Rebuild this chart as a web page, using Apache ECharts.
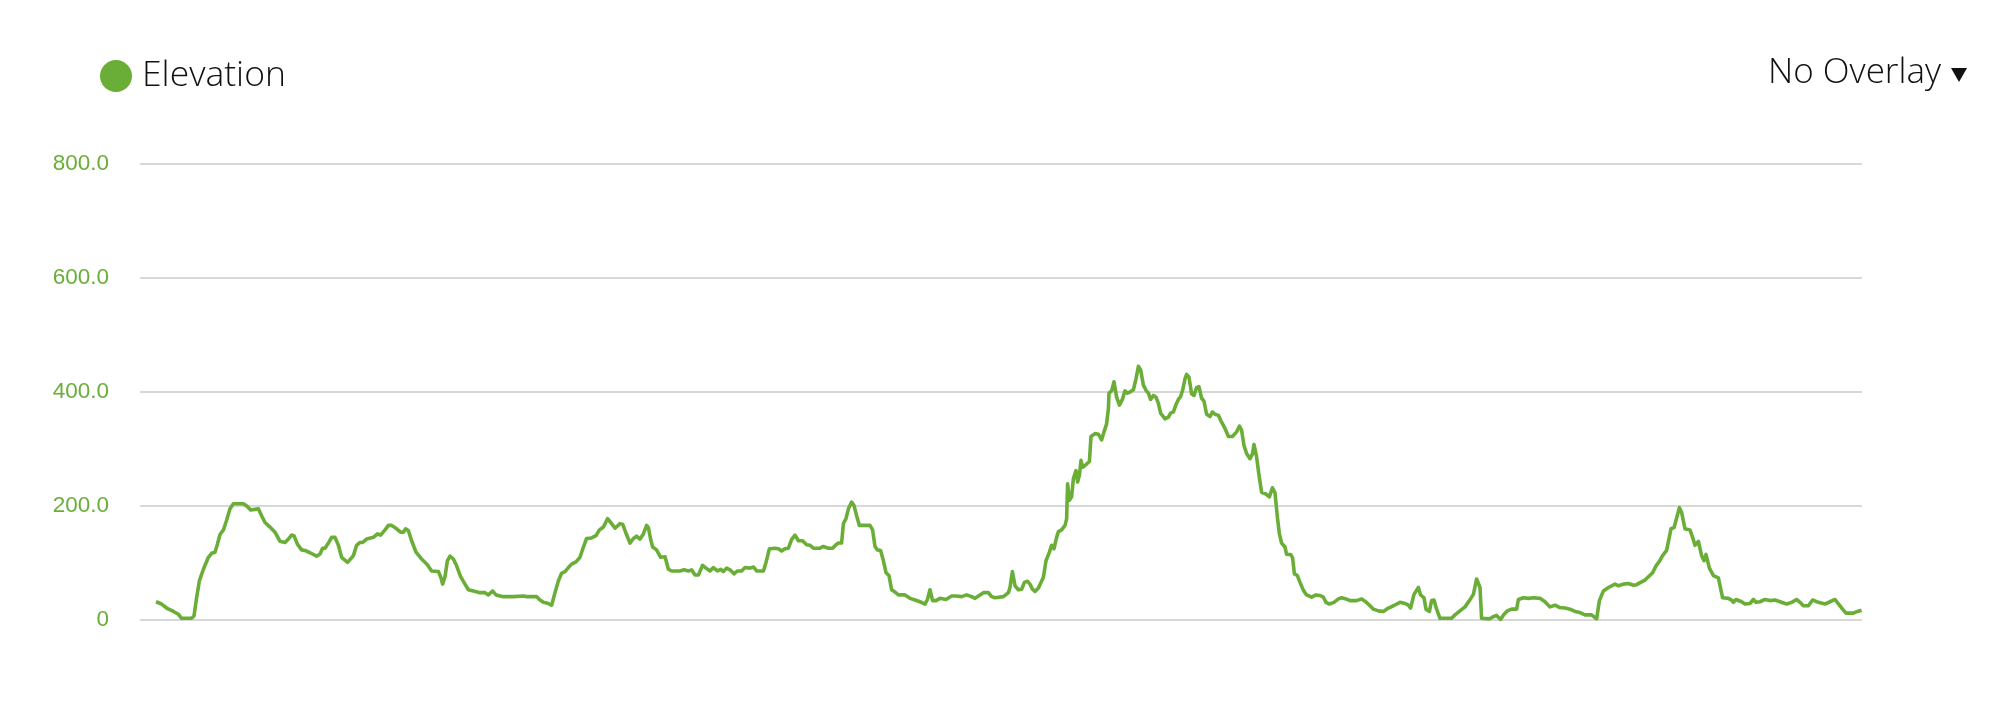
<!DOCTYPE html>
<html>
<head>
<meta charset="utf-8">
<script src="https://cdn.jsdelivr.net/npm/echarts@6/dist/echarts.min.js"></script>
<style>
html,body{margin:0;padding:0;background:#fff;}
#chart{width:1992px;height:706px;}
</style>
</head>
<body>
<div id="chart"></div>
<script>
// Distance (km) and elevation (m), in route order
var distanceKm1 = [0.80,1.08,1.33,1.67,1.92,2.08,2.58,2.70,2.83,2.97,3.17,3.42,3.58,3.75,3.87,4.00,4.17,4.33,4.50,4.67,5.17,5.37,5.53,5.92,6.08,6.25,6.50,6.75,7.00,7.25,7.42,7.58,7.70,7.87,8.08,8.25,8.50,8.83,9.00,9.13,9.25,9.42,9.58,9.75,9.92,10.08,10.38,10.67,10.83,11.00,11.13,11.33,11.67,11.87,12.03,12.25,12.42,12.58,12.83,13.03,13.17,13.28,13.42,13.58,13.80,14.08,14.37,14.58,14.92,15.05,15.13,15.25,15.37,15.50,15.67,15.83,16.03,16.25,16.42,16.67,17.00];
var elevationM1 = [32,28,21,15,10,3,3,7,39,69,89,110,117,119,133,150,158,175,195,204,204,199,193,195,183,171,163,154,138,136,142,149,148,133,123,122,118,112,116,126,126,135,145,145,131,110,101,113,131,136,136,142,145,151,149,158,166,166,160,154,154,160,157,139,119,107,97,86,85,74,63,76,104,112,107,95,76,63,53,51,48];

var distanceKm2 = [17.25,17.42,17.63,17.80,18.17,18.67,19.17,19.33,19.83,20.00,20.17,20.33,20.58,20.75,20.92,21.08,21.25,21.42,21.58,21.80,22.00,22.17,22.33,22.58,22.80,22.97,23.17,23.38,23.58,23.75,24.00,24.13,24.28,24.50,24.67,24.83,25.00,25.17,25.33,25.42,25.53,25.63,25.83,26.03,26.25,26.42,26.58,27.00,27.20,27.42,27.58,27.75,27.92,28.13,28.30,28.50,28.67,28.87,29.03,29.17,29.33,29.50,29.70,29.87,30.08,30.25,30.50,30.67,30.83,31.17,31.30,31.47,31.75,31.92,32.08,32.25,32.42,32.58,32.75,32.92,33.13,33.33,33.50,33.67,34.00];
var elevationM2 = [48,44,51,44,41,41,42,41,41,35,31,30,26,48,69,82,85,92,98,102,110,128,143,144,148,158,163,178,169,161,169,168,154,135,143,147,142,151,166,162,142,128,123,110,111,89,86,86,88,86,88,79,79,96,91,86,92,86,89,85,91,88,81,86,86,92,91,93,86,86,101,125,126,125,121,125,126,141,149,139,139,132,131,126,126];

var distanceKm3 = [34.17,34.42,34.63,34.80,34.92,35.08,35.17,35.30,35.42,35.58,35.70,35.83,35.97,36.50,36.63,36.75,36.87,37.03,37.17,37.30,37.45,37.58,37.75,37.92,38.25,38.50,38.75,38.83,39.00,39.25,39.37,39.50,39.63,39.80,40.00,40.30,40.58,40.80,41.08,41.33,41.58,41.75,42.00,42.17,42.42,42.58,42.75,43.17,43.42,43.50,43.62,43.75,43.92,44.08,44.22,44.37,44.50,44.62,44.75,44.92];
var elevationM3 = [129,126,126,132,135,135,169,178,195,207,201,183,166,166,158,129,123,122,104,83,78,53,49,44,44,38,35,36,32,28,36,53,34,34,38,36,42,42,41,44,41,38,44,48,48,41,39,41,48,57,85,60,53,54,66,68,63,54,50,56];

var distanceKm4 = [45.17,45.30,45.47,45.58,45.70,45.83,45.92,46.08,46.25,46.33,46.38,46.47,46.58,46.67,46.80,46.88,46.97,47.05,47.13,47.25,47.47,47.55,47.75,47.92,48.08,48.20,48.33,48.42,48.45,48.58,48.70,48.83,48.97,49.13,49.25,49.37,49.50,49.67,49.80,49.92,50.03,50.17,50.30,50.42,50.53,50.67,50.80,50.92,51.03,51.25,51.42,51.53,51.67,51.80,51.92,52.03,52.13,52.25,52.33,52.45,52.58,52.70,52.83,52.95,53.08,53.20,53.33,53.50,53.63,53.75,53.92,54.08,54.25,54.42,54.62,54.83,54.97,55.08,55.20,55.33,55.50,55.62,55.70,55.83,55.95,56.08,56.30,56.47,56.62,56.75,56.87,56.97,57.08,57.25,57.33,57.53,57.63,57.72,57.87,58.00,58.17,58.33,58.58,58.80,59.00,59.17,59.30,59.47,59.70,59.92,60.08,60.30,60.50,60.83,61.08,61.25,61.50];
var elevationM4 = [75,104,119,131,125,145,155,158,166,177,239,210,216,248,262,242,254,280,268,271,278,322,327,326,316,330,344,371,398,402,418,391,377,388,402,398,400,404,423,445,439,412,403,398,387,394,391,380,363,353,356,363,365,378,387,392,403,423,431,426,397,394,408,409,389,384,361,357,365,361,359,347,336,322,322,330,340,333,306,292,283,291,308,286,254,224,221,216,232,223,180,151,135,128,115,115,109,81,78,66,52,44,40,44,43,40,31,28,31,37,39,37,34,34,37,33,25];

var distanceKm5 = [61.67,61.92,62.17,62.42,62.67,63.00,63.25,63.42,63.53,63.70,63.92,64.03,64.20,64.30,64.47,64.58,64.70,64.83,65.00,65.58,65.75,66.00,66.25,66.47,66.67,66.83,67.00,67.08,67.50,67.67,67.83,68.03,68.20,68.37,68.58,68.83,68.92,69.17,69.42,69.67,70.00,70.25,70.50,70.75,70.97,71.25,71.50,71.75,72.00,72.25,72.58,72.83,72.97,73.17,73.42,73.75,73.92,74.17,74.42,74.67,74.83,75.03,75.25,75.42,75.63,75.80,75.97,76.13,76.33,76.55,76.70,76.97,77.08,77.25,77.50,77.63,77.75,77.92,78.08,78.20,78.30,78.47,78.67,78.92,79.13,79.42,79.58,79.67,79.80,80.08,80.25,80.50,80.67,80.80,81.00,81.25,81.50,81.75,82.00,82.33,82.58,82.83,83.00,83.17,83.42,83.63,83.92,84.25,84.50,84.75,84.97,85.13,85.30,85.67,85.87,86.08];
var elevationM5 = [19,16,15,21,25,31,29,26,21,45,57,44,39,19,15,34,35,19,3,3,9,16,23,34,45,72,57,3,2,6,8,1,10,16,19,19,36,39,38,39,38,32,23,26,22,21,19,15,13,9,9,2,34,51,57,63,60,63,64,61,62,66,70,76,83,95,103,113,122,160,162,197,189,160,158,145,131,138,113,104,115,91,78,74,39,38,35,31,36,32,28,29,36,31,32,36,34,35,32,28,31,36,31,25,25,35,31,28,32,36,26,19,12,12,15,17];

var yTicks = [0, 200, 400, 600, 800];
var seriesName = 'Elevation';
var overlayLabel = 'No Overlay';

var distances = [].concat(distanceKm1, distanceKm2, distanceKm3, distanceKm4, distanceKm5);
var elevations = [].concat(elevationM1, elevationM2, elevationM3, elevationM4, elevationM5);
var points = distances.map(function (d, i) { return [d, elevations[i]]; });

var GREEN = '#6aae38';
var chart = echarts.init(document.getElementById('chart'), null, {renderer: 'canvas'});
chart.setOption({
  animation: false,
  backgroundColor: '#ffffff',
  grid: {left: 140, right: 130, top: 164, bottom: 86, containLabel: false},
  legend: {
    data: [{name: seriesName, icon: 'circle', itemStyle: {color: GREEN}}],
    left: 100, top: 58, padding: 0,
    itemWidth: 32, itemHeight: 32,
    textStyle: {fontFamily: 'Open Sans', fontWeight: 300, fontSize: 35.5, color: '#111', padding: [0, 0, 0, 5]}
  },
  xAxis: {
    type: 'value', min: 0, max: 86.1, show: true,
    axisLine: {show: false}, axisTick: {show: false}, axisLabel: {show: false}, splitLine: {show: false}
  },
  yAxis: {
    type: 'value', min: yTicks[0], max: yTicks[yTicks.length - 1], interval: 200,
    axisLine: {show: false}, axisTick: {show: false},
    axisLabel: {
      color: GREEN, fontFamily: 'Liberation Sans', fontSize: 22.5, margin: 31,
      formatter: function (v) { return v === 0 ? '0' : v.toFixed(1); }
    },
    splitLine: {lineStyle: {color: '#d8d8d8', width: 2}}
  },
  graphic: [
    {type: 'text', x: 1941, y: 73,
      style: {text: overlayLabel, font: '300 35px "Open Sans"', fill: '#111', align: 'right', verticalAlign: 'middle'}},
    {type: 'polygon', shape: {points: [[1951, 68], [1967, 68], [1959, 82]]}, style: {fill: '#111'}}
  ],
  series: [{
    name: seriesName, type: 'line', data: points,
    showSymbol: false, symbol: 'none', smooth: false,
    lineStyle: {color: GREEN, width: 3.6, join: 'round'},
    itemStyle: {color: GREEN}
  }]
});
</script>
</body>
</html>
